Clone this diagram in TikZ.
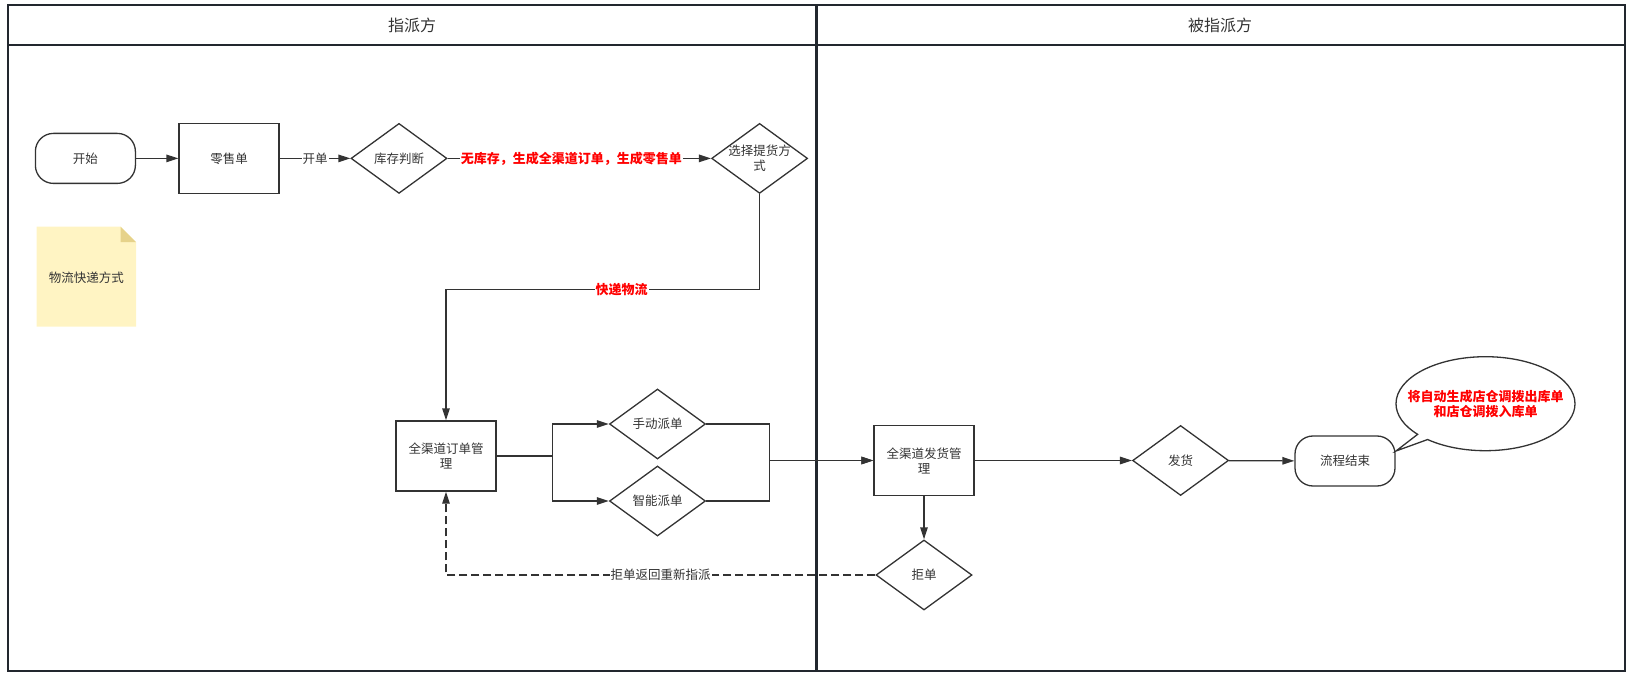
\documentclass[tikz,border=0pt]{standalone}
\usepackage{fontspec}
\setmainfont{Noto Sans CJK SC}
\usetikzlibrary{arrows.meta,shapes.geometric,shapes.callouts}
\definecolor{linec}{HTML}{333333}
\definecolor{textc}{HTML}{333333}
\definecolor{lanec}{HTML}{22272E}
\definecolor{notefill}{HTML}{FFF4C3}
\definecolor{notefold}{HTML}{E6D28A}
\definecolor{redc}{HTML}{FF0000}
\tikzset{
  txt/.style={font=\fontsize{12.5}{15}\selectfont, text=textc, align=center},
  base/.style={draw=linec, line width=1.3pt, txt, inner sep=0pt},
  proc/.style={base, rectangle, minimum width=100pt, minimum height=70pt},
  term/.style={base, rectangle, rounded corners=18pt, minimum width=100pt, minimum height=50pt},
  dec/.style={base, diamond, minimum width=96pt, minimum height=70pt},
  conn/.style={draw=linec, line width=1.3pt},
  arr/.style={conn, -{Triangle[length=12pt,width=7.5pt]}},
  lab/.style={txt, fill=white, inner sep=1pt},
  redlab/.style={lab, text=redc, font=\fontsize{13}{15}\selectfont\bfseries},
  lane/.style={draw=lanec, line width=2pt},
  head/.style={txt, font=\fontsize{16}{18}\selectfont},
}
\begin{document}
\begin{tikzpicture}[x=1pt,y=-1pt]
\useasboundingbox (0,0) rectangle (1634,676);
% lanes
\draw[lane] (8.3,5.2) rectangle (816,671);
\draw[lane] (816,5.2) rectangle (1624.5,671);
\draw[lane] (8.3,44.8) -- (1624.5,44.8);
\draw[draw=lanec, line width=3pt] (816,5.2) -- (816,671);
\node[head] (h1) at (412,25) {指派方};
\node[head] (h2) at (1220,25) {被指派方};
% note
\fill[notefill] (36.5,226.7) -- (120.5,226.7) -- (136,242.2) -- (136,326.7) -- (36.5,326.7) -- cycle;
\fill[notefold] (120.5,226.7) -- (120.5,242.2) -- (136,242.2) -- cycle;
\node[txt] (note) at (86.3,278) {物流快递方式};
% nodes
\node[term] (start) at (85.4,158.4) {开始};
\node[proc] (retail) at (229,158.4) {零售单};
\node[dec, label={[txt]center:库存判断}] (stock) at (399,158.4) {};
\node[dec, label={[txt]center:选择提货方\\式}] (choose) at (759.6,158.4) {};
\node[proc] (order) at (446,456) {全渠道订单管\\理};
\node[dec, label={[txt]center:手动派单}] (manual) at (657.5,424) {};
\node[dec, label={[txt]center:智能派单}] (smart) at (657.5,501) {};
\node[proc] (ship) at (924,460.5) {全渠道发货管\\理};
\node[dec, label={[txt]center:发货}] (deliver) at (1180.6,460.5) {};
\node[term] (end) at (1345,461) {流程结束};
\node[dec, label={[txt]center:拒单}] (reject) at (924,575) {};
\node[ellipse callout, draw=linec, line width=1.3pt, fill=white,
      minimum width=179pt, minimum height=94pt, inner sep=0pt,
      callout absolute pointer={(1396,451)}, callout pointer arc=9,
      label={[redlab, fill=none, align=center]center:将自动生成店仓调拨出库单\\和店仓调拨入库单}] (bubble) at (1485.5,403.7) {};
% connectors
\draw[arr] (start) -- (retail);
\draw[arr] (retail) -- node[lab]{开单} (stock);
\draw[arr] (stock) -- node[redlab, pos=0.47]{无库存，生成全渠道订单，生成零售单} (choose);
\draw[arr] (choose.south) -- ++(0,95.2) -| node[redlab, pos=0.22]{快递物流} (order.north);
\draw[arr] (order.east) -- ++(56,0) |- (manual.west);
\draw[arr] (order.east) -- ++(56,0) |- (smart.west);
\draw[arr] (manual.east) -- ++(63.5,0) |- (ship.west);
\draw[arr] (smart.east) -- ++(63.5,0) |- (ship.west);
\draw[arr] (ship) -- (deliver);
\draw[arr] (deliver) -- (end);
\draw[arr] (ship.south) -- (reject.north);
\draw[arr, dash pattern=on 8pt off 4pt] (reject.west) -| node[lab, pos=0.25]{拒单返回重新指派} (order.south);
\end{tikzpicture}
\end{document}
